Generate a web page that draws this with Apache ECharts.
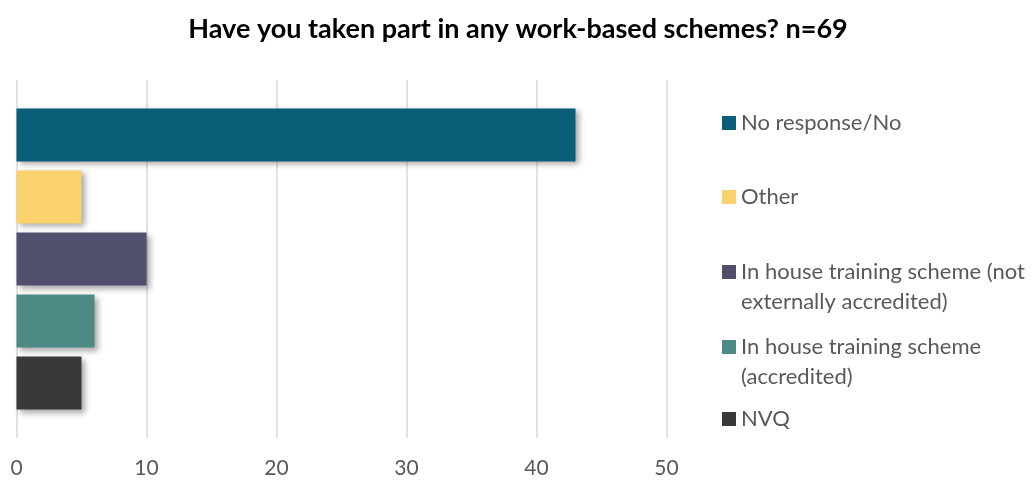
<!DOCTYPE html>
<html>
<head>
<meta charset="utf-8">
<script src="https://cdn.jsdelivr.net/npm/echarts@6/dist/echarts.min.js"></script>
<style>html,body{margin:0;padding:0;background:#fff}#c{width:1036px;height:480px}</style>
</head>
<body>
<div id="c"></div>
<script>
var titleText = 'Have you taken part in any work-based schemes? n=69';
var legendLines = [
  ['No response/No'],
  ['Other'],
  ['In house training scheme (not', 'externally accredited)'],
  ['In house training scheme', '(accredited)'],
  ['NVQ']
];
var seriesNames = legendLines.map(function (l) { return l.join(' '); });
var seriesValues = [43, 5, 10, 6, 5];
var seriesColors = ['#0A5E78', '#FAD26D', '#514F6E', '#4D8A86', '#3A3937'];
var xTicks = [0, 10, 20, 30, 40, 50];
var legendTops = [108, 182, 257, 332, 404];

var chart = echarts.init(document.getElementById('c'), null, {renderer: 'canvas'});
var series = seriesNames.map(function (n, i) {
  return {
    name: n,
    type: 'bar',
    data: [seriesValues[i]],
    barWidth: 53,
    barGap: '17%',
    itemStyle: {
      color: seriesColors[i],
      shadowBlur: 6,
      shadowOffsetX: 3,
      shadowOffsetY: 3,
      shadowColor: 'rgba(0,0,0,0.35)'
    }
  };
});
var legendTextStyle = {fontFamily: 'Lato', fontSize: 22, color: '#595959', lineHeight: 30};
var legends = [];
legendLines.forEach(function (lines, i) {
  lines.forEach(function (line, j) {
    legends.push({
      data: [seriesNames[i]],
      left: 722,
      top: legendTops[i] + j * 30,
      padding: 0,
      itemWidth: 14,
      itemHeight: 14,
      icon: j === 0 ? 'rect' : 'none',
      selectedMode: false,
      formatter: function () { return line; },
      textStyle: legendTextStyle
    });
  });
});
chart.setOption({
  animation: false,
  title: {
    text: titleText,
    left: 'center',
    top: 11,
    textStyle: {fontFamily: 'Lato', fontWeight: 'bold', fontSize: 27, color: '#000'}
  },
  legend: legends,
  grid: {left: 16.5, right: 369.5, top: 80, bottom: 42, containLabel: false},
  xAxis: {
    type: 'value',
    min: xTicks[0],
    max: xTicks[xTicks.length - 1],
    interval: 10,
    axisLine: {show: false},
    axisTick: {show: false},
    splitLine: {show: true, lineStyle: {color: '#D9D9D9', width: 1.5}},
    axisLabel: {fontFamily: 'Lato', fontSize: 21, color: '#595959', margin: 20}
  },
  yAxis: {
    type: 'category',
    data: [''],
    axisLine: {show: false},
    axisTick: {show: false},
    axisLabel: {show: false}
  },
  series: series
});
</script>
</body>
</html>
